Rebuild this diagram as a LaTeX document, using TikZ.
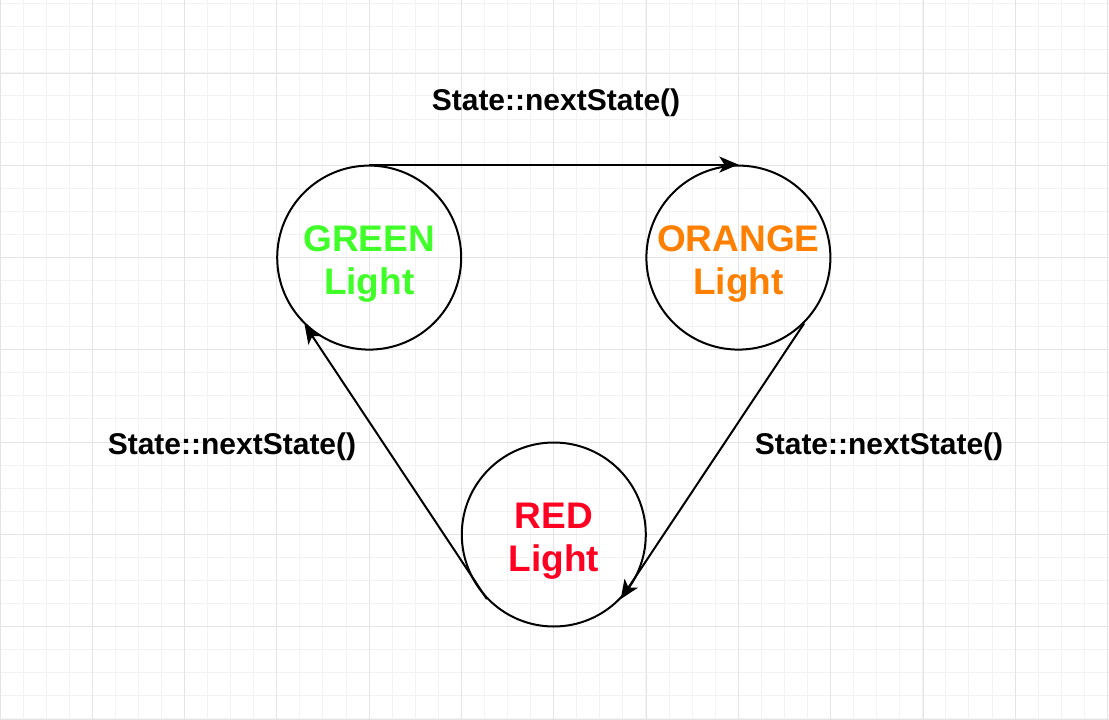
\documentclass[tikz,border=0pt]{standalone}
\usepackage{fontspec}
\setmainfont{Liberation Sans}
\usetikzlibrary{arrows.meta}
\definecolor{greenlight}{HTML}{40FF28}
\definecolor{orangelight}{HTML}{FF8000}
\definecolor{redlight}{HTML}{FF0022}
\definecolor{gridminor}{HTML}{F3F3F3}
\definecolor{gridmajor}{HTML}{E4E4E4}
\begin{document}
\begin{tikzpicture}[x=1pt, y=-1pt, >={Stealth[length=19pt, width=16pt, inset=5pt]},
  lamp/.style={draw, circle, line width=2pt, minimum size=184pt, inner sep=0pt},
  lamptext/.style={font=\fontsize{37pt}{43.5pt}\selectfont\bfseries, align=center, inner sep=0pt},
  trans/.style={->, line width=2pt},
  lbl/.style={font=\fontsize{30pt}{36pt}\selectfont\bfseries, inner sep=0pt},
  minorgrid/.style={draw=gridminor, line width=1pt},
  majorgrid/.style={draw=gridmajor, line width=1pt}]
  \useasboundingbox (0,0) rectangle (1109,720);
  \fill[white] (0,0) rectangle (1109,720);
  % background grid
  \foreach \i in {0,...,48} \draw[minorgrid] ({\i*23.07},0) -- ({\i*23.07},720);
  \foreach \j in {0,...,31} \draw[minorgrid] (0,{3.7+\j*23.07}) -- (1109,{3.7+\j*23.07});
  \foreach \i in {0,...,12} \draw[majorgrid] ({\i*92.3},0) -- ({\i*92.3},720);
  \foreach \j in {0,...,7} \draw[majorgrid] (0,{73+\j*92.3}) -- (1109,{73+\j*92.3});
  % states
  \node[lamp] (green) at (369.2,257.6) {};
  \node[lamp] (orange) at (738.4,257.6) {};
  \node[lamp] (red) at (553.8,534.5) {};
  \node[lamptext, text=greenlight] (greentext) at ([yshift=-6.5pt]green.center) {GREEN\\Light};
  \node[lamptext, text=orangelight] (orangetext) at ([yshift=-6.5pt]orange.center) {ORANGE\\Light};
  \node[lamptext, text=redlight] (redtext) at ([yshift=-6.5pt]red.center) {RED\\Light};
  % transitions
  \draw[trans] (green.north) -- (orange.north);
  \draw[trans] (orange.-45) -- (red.-44);
  \draw[trans] (red.224) -- (green.226);
  \node[lbl] (toplbl) at (556,103) {State::nextState()};
  \node[lbl] (rightlbl) at (879,447) {State::nextState()};
  \node[lbl] (leftlbl) at (232,447) {State::nextState()};
\end{tikzpicture}
\end{document}
